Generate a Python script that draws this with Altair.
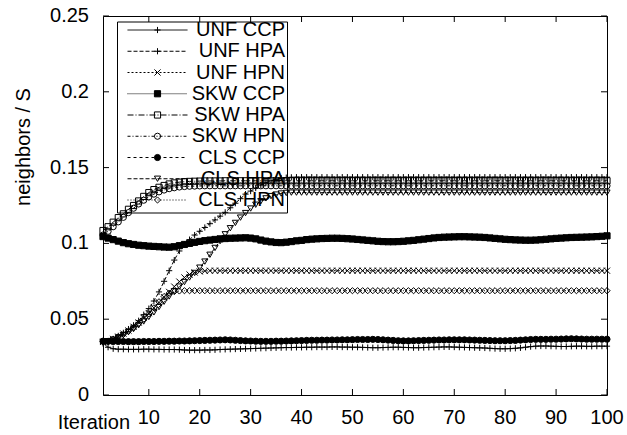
import altair as alt
import pandas as pd

iterations = list(range(1, 101))

series_names = ["UNF CCP", "UNF HPA", "UNF HPN", "SKW CCP", "SKW HPA",
                "SKW HPN", "CLS CCP", "CLS HPA", "CLS HPN"]

unf_ccp = [
    0.0340, 0.0315, 0.0305, 0.0302, 0.0302, 0.0301, 0.0301, 0.0301, 0.0302, 0.0302,
    0.0301, 0.0301, 0.0300, 0.0300, 0.0300, 0.0299, 0.0297, 0.0296, 0.0296, 0.0296,
    0.0297, 0.0297, 0.0298, 0.0300, 0.0301, 0.0302, 0.0303, 0.0304, 0.0305, 0.0306,
    0.0307, 0.0308, 0.0309, 0.0310, 0.0311, 0.0312, 0.0313, 0.0313, 0.0314, 0.0314,
    0.0315, 0.0315, 0.0316, 0.0316, 0.0316, 0.0317, 0.0317, 0.0316, 0.0316, 0.0315,
    0.0315, 0.0314, 0.0313, 0.0312, 0.0312, 0.0313, 0.0314, 0.0315, 0.0315, 0.0314,
    0.0313, 0.0312, 0.0312, 0.0313, 0.0314, 0.0315, 0.0316, 0.0317, 0.0317, 0.0316,
    0.0315, 0.0314, 0.0313, 0.0312, 0.0311, 0.0310, 0.0308, 0.0306, 0.0305, 0.0305,
    0.0306, 0.0308, 0.0311, 0.0315, 0.0319, 0.0322, 0.0323, 0.0323, 0.0322, 0.0321,
    0.0320, 0.0320, 0.0321, 0.0322, 0.0322, 0.0321, 0.0321, 0.0322, 0.0322, 0.0322,
]

unf_hpa = [
    0.0350, 0.0355, 0.0370, 0.0390, 0.0410, 0.0435, 0.0460, 0.0490, 0.0530, 0.0570,
    0.0620, 0.0680, 0.0750, 0.0820, 0.0890, 0.0950, 0.0995, 0.1025, 0.1055, 0.1080,
    0.1105, 0.1130, 0.1155, 0.1180, 0.1205, 0.1235, 0.1265, 0.1295, 0.1325, 0.1345,
    0.1365, 0.1385, 0.1400, 0.1413, 0.1423, 0.1430, 0.1434, 0.1436, 0.1437, 0.1437,
    0.1437, 0.1437, 0.1437, 0.1437, 0.1437, 0.1437, 0.1437, 0.1437, 0.1437, 0.1437,
    0.1437, 0.1437, 0.1437, 0.1437, 0.1437, 0.1437, 0.1437, 0.1437, 0.1437, 0.1437,
    0.1437, 0.1437, 0.1437, 0.1437, 0.1437, 0.1437, 0.1437, 0.1437, 0.1437, 0.1437,
    0.1437, 0.1437, 0.1437, 0.1437, 0.1437, 0.1437, 0.1437, 0.1437, 0.1437, 0.1437,
    0.1437, 0.1437, 0.1437, 0.1437, 0.1437, 0.1437, 0.1437, 0.1437, 0.1437, 0.1437,
    0.1437, 0.1437, 0.1437, 0.1437, 0.1437, 0.1437, 0.1437, 0.1437, 0.1437, 0.1437,
]

unf_hpn = [
    0.0350, 0.0355, 0.0370, 0.0385, 0.0405, 0.0425, 0.0450, 0.0478, 0.0508, 0.0540,
    0.0575, 0.0610, 0.0645, 0.0680, 0.0715, 0.0748, 0.0775, 0.0795, 0.0808, 0.0815,
    0.0818, 0.0820, 0.0820, 0.0820, 0.0820, 0.0820, 0.0820, 0.0820, 0.0820, 0.0820,
    0.0820, 0.0820, 0.0820, 0.0820, 0.0820, 0.0820, 0.0820, 0.0820, 0.0820, 0.0820,
    0.0820, 0.0820, 0.0820, 0.0820, 0.0820, 0.0820, 0.0820, 0.0820, 0.0820, 0.0820,
    0.0820, 0.0820, 0.0820, 0.0820, 0.0820, 0.0820, 0.0820, 0.0820, 0.0820, 0.0820,
    0.0820, 0.0820, 0.0820, 0.0820, 0.0820, 0.0820, 0.0820, 0.0820, 0.0820, 0.0820,
    0.0820, 0.0820, 0.0820, 0.0820, 0.0820, 0.0820, 0.0820, 0.0820, 0.0820, 0.0820,
    0.0820, 0.0820, 0.0820, 0.0820, 0.0820, 0.0820, 0.0820, 0.0820, 0.0820, 0.0820,
    0.0820, 0.0820, 0.0820, 0.0820, 0.0820, 0.0820, 0.0820, 0.0820, 0.0820, 0.0820,
]

skw_ccp = [
    0.1045, 0.1035, 0.1025, 0.1015, 0.1005, 0.0998, 0.0993, 0.0988, 0.0985, 0.0982,
    0.0980, 0.0978, 0.0976, 0.0975, 0.0978, 0.0985, 0.0993, 0.1000, 0.1007, 0.1013,
    0.1018, 0.1022, 0.1026, 0.1030, 0.1032, 0.1034, 0.1035, 0.1036, 0.1037, 0.1035,
    0.1030, 0.1022, 0.1015, 0.1010, 0.1006, 0.1005, 0.1008, 0.1012, 0.1017, 0.1020,
    0.1025, 0.1028, 0.1030, 0.1032, 0.1033, 0.1034, 0.1034, 0.1033, 0.1031, 0.1029,
    0.1026, 0.1023, 0.1020, 0.1017, 0.1014, 0.1012, 0.1011, 0.1011, 0.1012, 0.1014,
    0.1017, 0.1020, 0.1024, 0.1028, 0.1032, 0.1036, 0.1039, 0.1041, 0.1042, 0.1043,
    0.1044, 0.1044, 0.1043, 0.1042, 0.1041, 0.1039, 0.1036, 0.1033, 0.1030, 0.1027,
    0.1025, 0.1023, 0.1022, 0.1021, 0.1021, 0.1022, 0.1024, 0.1027, 0.1030, 0.1033,
    0.1035, 0.1037, 0.1039, 0.1040, 0.1041, 0.1042, 0.1043, 0.1045, 0.1047, 0.1050,
]

skw_hpa = [
    0.1085, 0.1110, 0.1140, 0.1170, 0.1195, 0.1225, 0.1250, 0.1280, 0.1310, 0.1335,
    0.1355, 0.1370, 0.1382, 0.1392, 0.1399, 0.1404, 0.1407, 0.1409, 0.1410, 0.1411,
    0.1412, 0.1412, 0.1412, 0.1412, 0.1413, 0.1413, 0.1413, 0.1413, 0.1413, 0.1413,
    0.1413, 0.1413, 0.1413, 0.1413, 0.1413, 0.1413, 0.1413, 0.1413, 0.1413, 0.1413,
    0.1413, 0.1413, 0.1413, 0.1413, 0.1413, 0.1413, 0.1413, 0.1413, 0.1413, 0.1413,
    0.1413, 0.1413, 0.1413, 0.1413, 0.1413, 0.1413, 0.1413, 0.1413, 0.1413, 0.1413,
    0.1413, 0.1413, 0.1413, 0.1413, 0.1413, 0.1413, 0.1413, 0.1413, 0.1413, 0.1413,
    0.1413, 0.1413, 0.1413, 0.1413, 0.1413, 0.1413, 0.1413, 0.1413, 0.1413, 0.1413,
    0.1413, 0.1413, 0.1413, 0.1413, 0.1413, 0.1413, 0.1413, 0.1413, 0.1413, 0.1413,
    0.1413, 0.1413, 0.1413, 0.1413, 0.1413, 0.1413, 0.1413, 0.1413, 0.1413, 0.1413,
]

skw_hpn = [
    0.1055, 0.1080, 0.1110, 0.1142, 0.1172, 0.1203, 0.1232, 0.1260, 0.1285, 0.1307,
    0.1325, 0.1340, 0.1352, 0.1361, 0.1367, 0.1372, 0.1375, 0.1377, 0.1378, 0.1379,
    0.1380, 0.1380, 0.1380, 0.1380, 0.1380, 0.1380, 0.1380, 0.1380, 0.1380, 0.1380,
    0.1380, 0.1380, 0.1380, 0.1380, 0.1380, 0.1380, 0.1380, 0.1380, 0.1380, 0.1380,
    0.1380, 0.1380, 0.1380, 0.1380, 0.1380, 0.1380, 0.1380, 0.1380, 0.1380, 0.1380,
    0.1380, 0.1380, 0.1380, 0.1380, 0.1380, 0.1380, 0.1380, 0.1380, 0.1380, 0.1380,
    0.1380, 0.1380, 0.1380, 0.1380, 0.1380, 0.1380, 0.1380, 0.1380, 0.1380, 0.1380,
    0.1380, 0.1380, 0.1380, 0.1380, 0.1380, 0.1380, 0.1380, 0.1380, 0.1380, 0.1380,
    0.1380, 0.1380, 0.1380, 0.1380, 0.1380, 0.1380, 0.1380, 0.1380, 0.1380, 0.1380,
    0.1380, 0.1380, 0.1380, 0.1380, 0.1380, 0.1380, 0.1380, 0.1380, 0.1380, 0.1380,
]

cls_ccp = [
    0.0355, 0.0354, 0.0353, 0.0353, 0.0353, 0.0352, 0.0352, 0.0352, 0.0353, 0.0353,
    0.0353, 0.0354, 0.0354, 0.0355, 0.0355, 0.0356, 0.0356, 0.0357, 0.0358, 0.0359,
    0.0360, 0.0361, 0.0362, 0.0363, 0.0364, 0.0363, 0.0361, 0.0359, 0.0357, 0.0356,
    0.0355, 0.0354, 0.0354, 0.0354, 0.0355, 0.0355, 0.0356, 0.0357, 0.0358, 0.0359,
    0.0360, 0.0361, 0.0361, 0.0362, 0.0362, 0.0363, 0.0363, 0.0364, 0.0364, 0.0365,
    0.0366, 0.0366, 0.0366, 0.0367, 0.0366, 0.0364, 0.0362, 0.0360, 0.0358, 0.0357,
    0.0357, 0.0358, 0.0359, 0.0360, 0.0361, 0.0362, 0.0363, 0.0363, 0.0364, 0.0364,
    0.0364, 0.0364, 0.0363, 0.0362, 0.0361, 0.0360, 0.0359, 0.0358, 0.0358, 0.0358,
    0.0359, 0.0360, 0.0362, 0.0364, 0.0366, 0.0367, 0.0367, 0.0367, 0.0368, 0.0368,
    0.0369, 0.0370, 0.0371, 0.0370, 0.0369, 0.0368, 0.0368, 0.0368, 0.0368, 0.0368,
]

cls_hpa = [
    0.0350, 0.0355, 0.0365, 0.0380, 0.0395, 0.0415, 0.0435, 0.0460, 0.0485, 0.0515,
    0.0545, 0.0580, 0.0615, 0.0650, 0.0685, 0.0715, 0.0745, 0.0775, 0.0805, 0.0840,
    0.0880, 0.0925, 0.0970, 0.1015, 0.1060, 0.1100, 0.1135, 0.1170, 0.1200, 0.1230,
    0.1255, 0.1278, 0.1297, 0.1312, 0.1322, 0.1329, 0.1333, 0.1335, 0.1335, 0.1335,
    0.1335, 0.1335, 0.1335, 0.1335, 0.1335, 0.1335, 0.1335, 0.1335, 0.1335, 0.1335,
    0.1335, 0.1335, 0.1335, 0.1335, 0.1335, 0.1335, 0.1335, 0.1335, 0.1335, 0.1335,
    0.1335, 0.1335, 0.1335, 0.1335, 0.1335, 0.1335, 0.1335, 0.1335, 0.1335, 0.1335,
    0.1335, 0.1335, 0.1335, 0.1335, 0.1335, 0.1335, 0.1335, 0.1335, 0.1335, 0.1335,
    0.1335, 0.1335, 0.1335, 0.1335, 0.1335, 0.1335, 0.1335, 0.1335, 0.1335, 0.1335,
    0.1335, 0.1335, 0.1335, 0.1335, 0.1335, 0.1335, 0.1335, 0.1335, 0.1335, 0.1335,
]

cls_hpn = [
    0.0350, 0.0355, 0.0368, 0.0383, 0.0400, 0.0420, 0.0443, 0.0470, 0.0500, 0.0535,
    0.0575, 0.0615, 0.0650, 0.0672, 0.0682, 0.0686, 0.0688, 0.0688, 0.0688, 0.0688,
    0.0688, 0.0688, 0.0688, 0.0688, 0.0688, 0.0688, 0.0688, 0.0688, 0.0688, 0.0688,
    0.0688, 0.0688, 0.0688, 0.0688, 0.0688, 0.0688, 0.0688, 0.0688, 0.0688, 0.0688,
    0.0688, 0.0688, 0.0688, 0.0688, 0.0688, 0.0688, 0.0688, 0.0688, 0.0688, 0.0688,
    0.0688, 0.0688, 0.0688, 0.0688, 0.0688, 0.0688, 0.0688, 0.0688, 0.0688, 0.0688,
    0.0688, 0.0688, 0.0688, 0.0688, 0.0688, 0.0688, 0.0688, 0.0688, 0.0688, 0.0688,
    0.0688, 0.0688, 0.0688, 0.0688, 0.0688, 0.0688, 0.0688, 0.0688, 0.0688, 0.0688,
    0.0688, 0.0688, 0.0688, 0.0688, 0.0688, 0.0688, 0.0688, 0.0688, 0.0688, 0.0688,
    0.0688, 0.0688, 0.0688, 0.0688, 0.0688, 0.0688, 0.0688, 0.0688, 0.0688, 0.0688,
]

x_ticks = [10, 20, 30, 40, 50, 60, 70, 80, 90, 100]
x_tick_labels = ["10", "20", "30", "40", "50", "60", "70", "80", "90", "100"]
y_ticks = [0, 0.05, 0.1, 0.15, 0.2, 0.25]
y_tick_labels = ["0", "0.05", "0.1", "0.15", "0.2", "0.25"]
x_title = "Iteration"
y_title = "neighbors / S"

# ---- styles ----
PLUS = "M-1,0L1,0M0,-1L0,1"
CROSS = "M-1,-1L1,1M-1,1L1,-1"
shapes = [PLUS, PLUS, CROSS, "square", "square", "circle", "circle", "triangle-down", "diamond"]
fills = ["transparent", "transparent", "transparent", "black", "transparent",
         "transparent", "black", "transparent", "transparent"]
dashes = [[1, 0], [4, 2], [2, 2], [1, 1], [6, 2, 1, 2], [3, 2, 1, 2], [3, 3], [4, 2], [1, 2]]
FONT = "Liberation Sans"
FS = 20
W, H = 504, 379
MSIZE = 38

all_series = [unf_ccp, unf_hpa, unf_hpn, skw_ccp, skw_hpa, skw_hpn, cls_ccp, cls_hpa, cls_hpn]
rows = []
for name, vals in zip(series_names, all_series):
    for it, v in zip(iterations, vals):
        rows.append({"series": name, "iter": it, "value": v})
df = pd.DataFrame(rows)

df_leg = pd.DataFrame({"series": series_names, "row": list(range(len(series_names)))})
df_xt = pd.DataFrame({"v": x_ticks, "label": x_tick_labels})
df_yt = pd.DataFrame({"v": y_ticks, "label": y_tick_labels})
df_one = pd.DataFrame({"xt": [x_title], "yt": [y_title]})

shape_sc = alt.Scale(domain=series_names, range=shapes)
fill_sc = alt.Scale(domain=series_names, range=fills)
dash_sc = alt.Scale(domain=series_names, range=dashes)

xscale = alt.Scale(domain=[1, 100], nice=False, zero=False)
yscale = alt.Scale(domain=[0, 0.25], nice=False)

lines = alt.Chart(df).mark_line(color="black", strokeWidth=1).encode(
    x=alt.X("iter:Q", scale=xscale, axis=None),
    y=alt.Y("value:Q", scale=yscale, axis=None),
    detail="series:N",
    strokeDash=alt.StrokeDash("series:N", scale=dash_sc, legend=None),
)
points = alt.Chart(df).mark_point(stroke="black", strokeWidth=1, opacity=1, size=MSIZE).encode(
    x=alt.X("iter:Q", scale=xscale, axis=None),
    y=alt.Y("value:Q", scale=yscale, axis=None),
    shape=alt.Shape("series:N", scale=shape_sc, legend=None),
    fill=alt.Fill("series:N", scale=fill_sc, legend=None),
)

tick_style = dict(color="black", strokeWidth=1)
xt_bot = alt.Chart(df_xt).mark_rule(**tick_style).encode(
    x=alt.X("v:Q", scale=xscale, axis=None), y=alt.value(H), y2=alt.value(H - 6))
xt_top = alt.Chart(df_xt).mark_rule(**tick_style).encode(
    x=alt.X("v:Q", scale=xscale, axis=None), y=alt.value(0), y2=alt.value(6))
yt_left = alt.Chart(df_yt).mark_rule(**tick_style).encode(
    y=alt.Y("v:Q", scale=yscale, axis=None), x=alt.value(0), x2=alt.value(6))
yt_right = alt.Chart(df_yt).mark_rule(**tick_style).encode(
    y=alt.Y("v:Q", scale=yscale, axis=None), x=alt.value(W), x2=alt.value(W - 6))

txt = dict(font=FONT, fontSize=FS, color="black")
xlab = alt.Chart(df_xt).mark_text(align="center", baseline="alphabetic", **txt).encode(
    x=alt.X("v:Q", scale=xscale, axis=None), y=alt.value(H + 28.5), text="label:N")
ylab = alt.Chart(df_yt).mark_text(align="right", baseline="middle", **txt).encode(
    y=alt.Y("v:Q", scale=yscale, axis=None), x=alt.value(-14), text="label:N")
xtitle = alt.Chart(df_one).mark_text(align="right", baseline="alphabetic", **txt).encode(
    x=alt.value(27), y=alt.value(H + 34), text="xt:N")
ytitle = alt.Chart(df_one).mark_text(align="center", baseline="middle", angle=270, **txt).encode(
    x=alt.value(-79), y=alt.value(131), text="yt:N")

main = alt.layer(lines, points, xt_bot, xt_top, yt_left, yt_right, xlab, ylab, xtitle, ytitle)

# ---- key (legend) ----
row_scale = alt.Scale(domain=[0, 8], range=[14, 184], nice=False, zero=False)
box = alt.Chart(df_one).mark_rect(fillOpacity=0, stroke="black", strokeWidth=1).encode(
    x=alt.value(14.5), x2=alt.value(184.5), y=alt.value(6), y2=alt.value(197))
leg_lines = alt.Chart(df_leg).mark_rule(color="black", strokeWidth=1).encode(
    x=alt.value(24.5), x2=alt.value(84.5),
    y=alt.Y("row:Q", scale=row_scale, axis=None),
    strokeDash=alt.StrokeDash("series:N", scale=dash_sc, legend=None),
)
leg_points = alt.Chart(df_leg).mark_point(stroke="black", strokeWidth=1, opacity=1, size=MSIZE).encode(
    x=alt.value(54.5),
    y=alt.Y("row:Q", scale=row_scale, axis=None),
    shape=alt.Shape("series:N", scale=shape_sc, legend=None),
    fill=alt.Fill("series:N", scale=fill_sc, legend=None),
)
leg_text = alt.Chart(df_leg).mark_text(align="right", baseline="middle", **txt).encode(
    x=alt.value(182),
    y=alt.Y("row:Q", scale=row_scale, axis=None),
    text="series:N",
)
key = alt.layer(box, leg_lines, leg_points, leg_text)

chart = alt.layer(key, main).resolve_scale(y="independent").properties(
    width=W, height=H,
    autosize=alt.AutoSizeParams(type="none"),
    padding={"left": 103, "top": 16, "right": 20, "bottom": 40},
).configure_view(stroke="black", strokeWidth=1)

chart.save("out.html", embed_options={"renderer": "svg", "actions": False})
